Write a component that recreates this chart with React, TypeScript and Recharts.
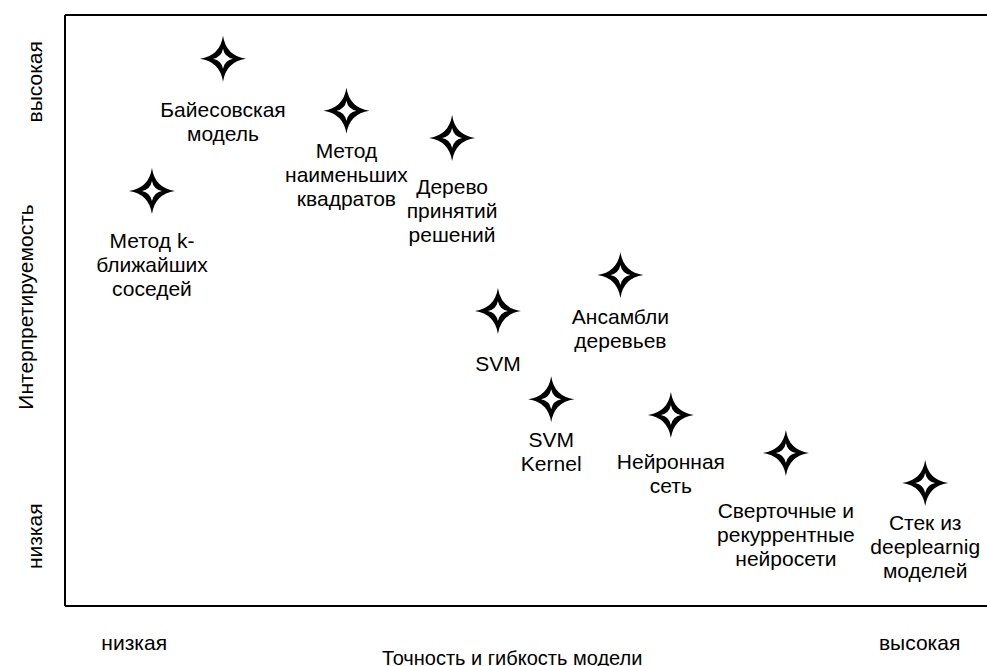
import { ScatterChart, Scatter, XAxis, YAxis, ReferenceLine, Label } from "recharts";

// model names, line breaks as on the picture
const models = [
  "Байесовская\nмодель",
  "Метод k-\nближайших\nсоседей",
  "Метод\nнаименьших\nквадратов",
  "Дерево\nпринятий\nрешений",
  "Ансамбли\nдеревьев",
  "SVM",
  "SVM\nKernel",
  "Нейронная\nсеть",
  "Сверточные и\nрекуррентные\nнейросети",
  "Стек из\ndeeplearnig\nмоделей",
];
// точность и гибкость (0..100)
const accuracy = [16.9, 9.3, 30.1, 41.4, 59.4, 46.3, 52.0, 64.8, 77.1, 92.0];
// интерпретируемость (0..100)
const interpretability = [92.6, 70.2, 83.8, 79.2, 56.0, 49.9, 35.0, 32.3, 25.9, 20.8];

const xTicks = [7.4, 91.4];
const xTickLabels = ["низкая", "высокая"];
const yTicks = [11.8, 88.7];
const yTickLabels = ["низкая", "высокая"];

const FONT = "'Liberation Sans', Arial, Helvetica, sans-serif";

// distance from star centre to the first label line (px)
const labelDy = [52, 51, 41, 50, 43, 54, 42, 48, 59, 41];

const data = models.map((name, i) => ({
  name,
  idx: i,
  x: accuracy[i],
  y: interpretability[i],
}));

function starPath(cx: number, cy: number, r: number, c: number) {
  return `M${cx},${cy - r} Q${cx + c},${cy - c} ${cx + r},${cy} Q${cx + c},${cy + c} ${cx},${cy + r} Q${cx - c},${cy + c} ${cx - r},${cy} Q${cx - c},${cy - c} ${cx},${cy - r} Z`;
}

function StarPoint(props: any) {
  const { cx, cy, payload } = props;
  const lines: string[] = payload.name.split("\n");
  const dy = labelDy[payload.idx] ?? 50;
  return (
    <g>
      <path d={starPath(cx, cy, 23, 3)} fill="#000" />
      <path d={starPath(cx, cy, 10, 1.6)} fill="#fff" />
      <text x={cx} y={cy + dy + 6} textAnchor="middle" fontSize={21} fontFamily={FONT} fill="#000">
        {lines.map((l, i) => (
          <tspan key={i} x={cx} dy={i === 0 ? 0 : 24}>{l}</tspan>
        ))}
      </text>
    </g>
  );
}

function XTick({ x, payload }: any) {
  const i = xTicks.indexOf(payload.value);
  return (
    <text x={x} y={650} textAnchor="middle" fontSize={21} fontFamily={FONT} fill="#000">
      {xTickLabels[i]}
    </text>
  );
}

function YTick({ y, payload }: any) {
  const i = yTicks.indexOf(payload.value);
  return (
    <text x={42} y={y} transform={`rotate(-90, 42, ${y})`} textAnchor="middle" fontSize={21} fontFamily={FONT} fill="#000">
      {yTickLabels[i]}
    </text>
  );
}

export default function App() {
  return (
    <div style={{ position: "absolute", left: 0, top: 0, width: 987, height: 666, overflow: "hidden", background: "#fff" }}>
      <ScatterChart width={1000} height={666} margin={{ top: 15, right: 0, bottom: 0, left: 0 }}>
        <XAxis
          type="number"
          dataKey="x"
          domain={[0, 100]}
          ticks={xTicks}
          tick={<XTick />}
          tickLine={false}
          axisLine={{ stroke: "#000", strokeWidth: 2 }}
          height={60}
          allowDataOverflow
        >
          <Label
            content={() => (
              <text x={382} y={665} textAnchor="start" fontSize={20} fontFamily={FONT} fill="#000">
                Точность и гибкость модели
              </text>
            )}
          />
        </XAxis>
        <YAxis
          type="number"
          dataKey="y"
          domain={[0, 100]}
          ticks={yTicks}
          tick={<YTick />}
          tickLine={false}
          axisLine={{ stroke: "#000", strokeWidth: 2 }}
          width={65}
          allowDataOverflow
        >
          <Label
            content={() => (
              <text x={33} y={307} transform="rotate(-90, 33, 307)" textAnchor="middle" fontSize={21} fontFamily={FONT} fill="#000">
                Интерпретируемость
              </text>
            )}
          />
        </YAxis>
        <ReferenceLine y={100} stroke="#000" strokeWidth={2} />
        <Scatter data={data} shape={<StarPoint />} isAnimationActive={false} />
      </ScatterChart>
    </div>
  );
}
